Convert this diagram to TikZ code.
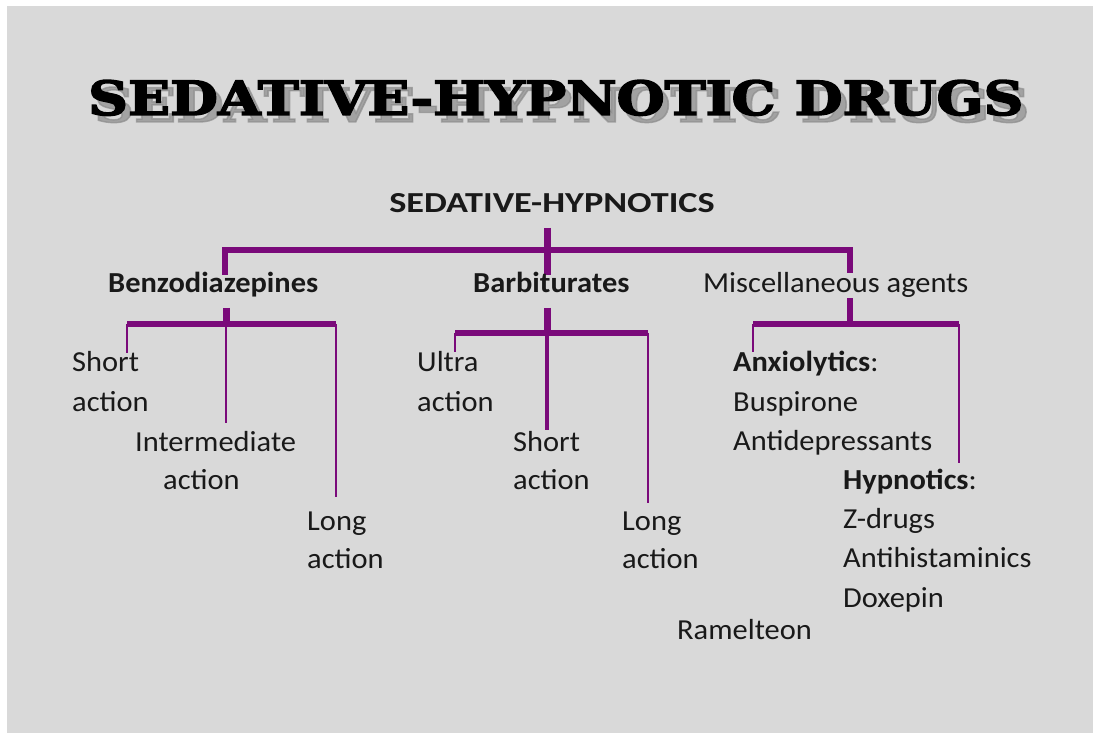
\documentclass[tikz,border=0pt]{standalone}
\usepackage{fontspec}
\setmainfont{Carlito}[FakeStretch=1.05]
\newfontfamily\titlefont{DejaVu Serif}[BoldFeatures={FakeBold=3}]
\definecolor{bg}{RGB}{217,217,217}
\definecolor{plum}{RGB}{122,10,122}
\definecolor{ink}{RGB}{25,25,25}
\definecolor{shade}{RGB}{140,140,140}
\begin{document}
\begin{tikzpicture}[x=1pt,y=-1pt,
  lbl/.style={inner sep=0pt,anchor=base west,text=ink,font=\fontsize{29}{35}\selectfont},
  bold/.style={lbl,font=\fontsize{29}{35}\selectfont\bfseries},
  ttl/.style={inner sep=0pt,anchor=base west},
  bar/.style={draw=plum,line width=6pt},
  twig/.style={draw=plum,line width=2.2pt},
  stem/.style={draw=plum,line width=7pt}]
\useasboundingbox (0,0) rectangle (1093,735);
\fill[white] (0,0) rectangle (1093,735);
\fill[bg] (7,6) rectangle (1100,733);
% title with drop shadow
\node[ttl,text=shade,opacity=0.7] (titleshadow) at (94,122)
  {\resizebox{935pt}{35pt}{\titlefont\bfseries SEDATIVE-HYPNOTIC DRUGS}};
\node[ttl,text=black] (title) at (88,115)
  {\resizebox{935pt}{35pt}{\titlefont\bfseries SEDATIVE-HYPNOTIC DRUGS}};
% connectors
\coordinate (topS) at (547,228);
\coordinate (topM) at (547,275);
\coordinate (topL) at (225,250);
\coordinate (topLd) at (225,275);
\coordinate (topR) at (850,250);
\coordinate (topRd) at (850,324);
\draw[stem] (topS) -- (topM);
\draw[bar] (topLd) -- (topL) -- (topR) -- (topRd);
% benzodiazepines
\coordinate (bzS) at (226,308);
\coordinate (bzL) at (127,324);
\coordinate (bzM) at (226,324);
\coordinate (bzR) at (336,324);
\draw[stem] (bzS) -- (bzM);
\draw[bar] (bzL) -- (bzR);
\coordinate (bzLd) at (127,353);
\coordinate (bzMd) at (226,423);
\coordinate (bzRd) at (336,497);
\draw[twig] (bzL) -- (bzLd);
\draw[twig] (bzM) -- (bzMd);
\draw[twig] (bzR) -- (bzRd);
% barbiturates
\coordinate (baS) at (547,308);
\coordinate (baL) at (455,333);
\coordinate (baM) at (547,333);
\coordinate (baR) at (648,333);
\draw[stem] (baS) -- (baM);
\draw[bar] (baL) -- (baR);
\coordinate (baLd) at (455,352);
\coordinate (baMd) at (547,430);
\coordinate (baRd) at (648,503);
\draw[twig] (baL) -- (baLd);
\draw[draw=plum,line width=3.2pt] (baM) -- (baMd);
\draw[twig] (baR) -- (baRd);
% miscellaneous
\coordinate (miL) at (753,324);
\coordinate (miR) at (959,324);
\draw[bar] (miL) -- (miR);
\coordinate (miLd) at (753,352);
\coordinate (miRd) at (959,463);
\draw[twig] (miL) -- (miLd);
\draw[twig] (miR) -- (miRd);
% texts
\node[bold,anchor=base] (root) at (552,213) {\scalebox{1.19}[1]{SEDATIVE-HYPNOTICS}};
\node[bold] (benz) at (108,293) {Benzodiazepines};
\node[bold] (barb) at (473,293) {Barbiturates};
\node[lbl,fill=bg] (misc) at (703,293) {Miscellaneous agents};
\node[lbl] (bs1) at (72,372) {Short};
\node[lbl] (bs2) at (72,411) {action};
\node[lbl] (bi1) at (135,451) {Intermediate};
\node[lbl] (bi2) at (163,489) {action};
\node[lbl] (bl1) at (307,530) {Long};
\node[lbl] (bl2) at (307,568) {action};
\node[lbl] (au1) at (417,372) {Ultra};
\node[lbl] (au2) at (417,411) {action};
\node[lbl] (as1) at (513,451) {Short};
\node[lbl] (as2) at (513,489) {action};
\node[lbl] (al1) at (622,530) {Long};
\node[lbl] (al2) at (622,568) {action};
\node[lbl] (anx) at (733,372) {\textbf{Anxiolytics}:};
\node[lbl] (bus) at (733,411) {Buspirone};
\node[lbl] (ant) at (733,450) {Antidepressants};
\node[lbl] (hyp) at (843,489) {\textbf{Hypnotics}:};
\node[lbl] (zdr) at (843,528) {Z-drugs};
\node[lbl] (ahi) at (843,567) {Antihistaminics};
\node[lbl] (dox) at (843,607) {Doxepin};
\node[lbl] (ram) at (677,639) {Ramelteon};
\end{tikzpicture}
\end{document}
